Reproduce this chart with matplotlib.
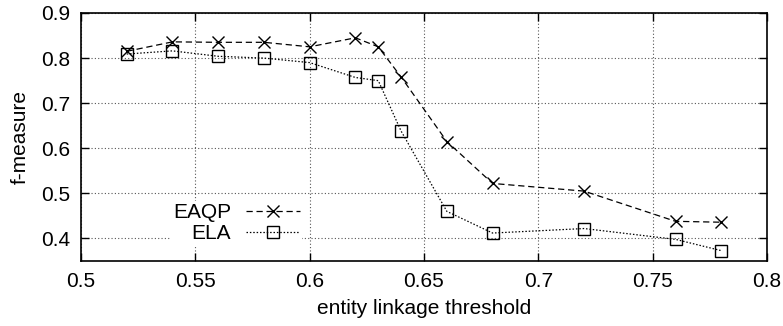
import matplotlib
matplotlib.use("Agg")
import matplotlib.pyplot as plt

# threshold values on the x axis
thresholds = [0.52, 0.54, 0.56, 0.58, 0.60, 0.62, 0.63, 0.64, 0.66, 0.68, 0.72, 0.76, 0.78]

# f-measure per method
eaqp = [0.815, 0.836, 0.835, 0.835, 0.825, 0.845, 0.825, 0.758, 0.615, 0.522, 0.505, 0.438, 0.436]
ela = [0.809, 0.816, 0.804, 0.800, 0.790, 0.757, 0.750, 0.638, 0.460, 0.412, 0.422, 0.398, 0.373]

xticks = [0.5, 0.55, 0.6, 0.65, 0.7, 0.75, 0.8]
xticklabels = ["0.5", "0.55", "0.6", "0.65", "0.7", "0.75", "0.8"]
yticks = [0.4, 0.5, 0.6, 0.7, 0.8, 0.9]
yticklabels = ["0.4", "0.5", "0.6", "0.7", "0.8", "0.9"]

plt.rcParams['font.family'] = ['Liberation Sans', 'DejaVu Sans']
plt.rcParams['font.size'] = 15

fig = plt.figure(figsize=(7.83, 3.26), dpi=100)
ax = fig.add_axes([81 / 783, 1 - 261 / 326, (767 - 81) / 783, (261 - 13) / 326])

ax.plot(thresholds, eaqp, color='black', linestyle=(0, (5, 3)), linewidth=0.9,
        marker='x', markersize=9, markeredgewidth=1.0, label='EAQP')
ax.plot(thresholds, ela, color='black', linestyle=(0, (1.2, 1.5)), linewidth=0.9,
        marker='s', markersize=8, markerfacecolor='none', markeredgewidth=1.0, label='ELA')

ax.set_xlim(0.5, 0.8)
ax.set_ylim(0.35, 0.9)
ax.set_xticks(xticks)
ax.set_xticklabels(xticklabels)
ax.set_yticks(yticks)
ax.set_yticklabels(yticklabels)

ax.grid(True, color='#555555', linestyle=(0, (1, 2)), linewidth=0.8)
ax.tick_params(direction='in', top=True, right=True, length=6, width=1.0, pad=8)
for s in ax.spines.values():
    s.set_linewidth(1.2)

ax.set_xlabel("entity linkage threshold", labelpad=6)
ax.set_ylabel("f-measure", labelpad=8)

# gnuplot-like key: label first, then sample line with marker
leg = fig.legend(loc='upper left', bbox_to_anchor=(171 / 783, 1 - 201 / 326),
                 handles=ax.get_lines(), markerfirst=False,
                 frameon=True, handlelength=2.6, handletextpad=0.7, labelspacing=0.1,
                 borderpad=0.1, borderaxespad=0.0, fontsize=15)
leg.get_frame().set_edgecolor('none')
leg.get_frame().set_facecolor('white')
leg.get_frame().set_alpha(1.0)
for t in leg.get_texts():
    t.set_horizontalalignment('right')

fig.savefig("out.png", dpi=100)
